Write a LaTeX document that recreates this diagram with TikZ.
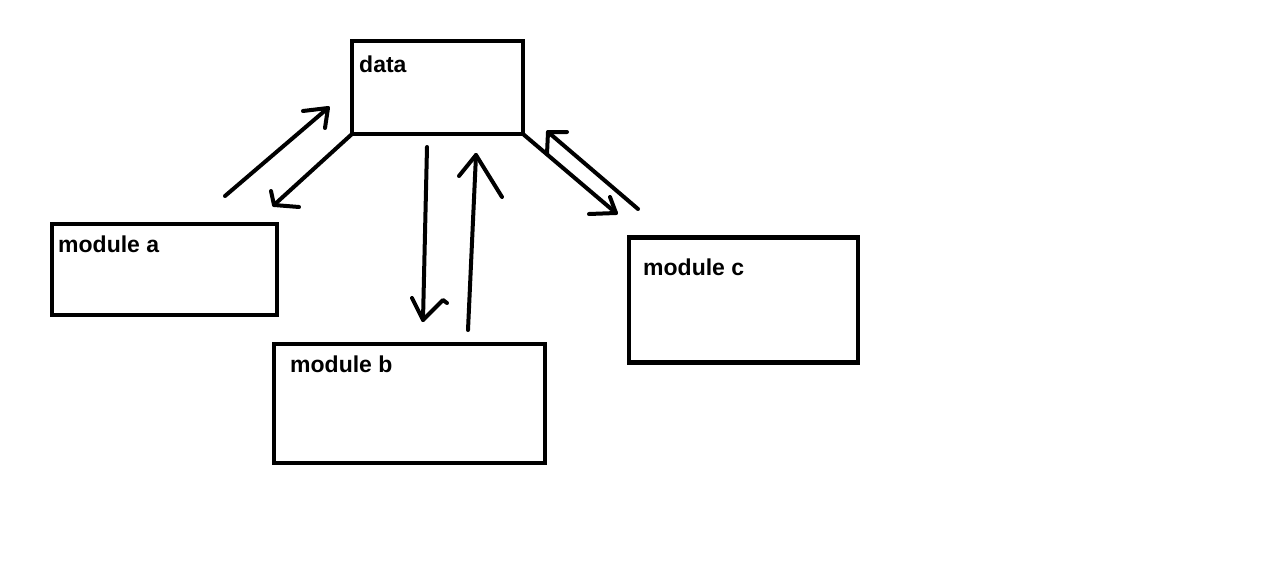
\documentclass[tikz,border=0pt]{standalone}
\usepackage{fontspec}
\setmainfont{Liberation Sans}
\begin{document}
\begin{tikzpicture}[x=1pt,y=-1pt,
  box/.style={draw=black, line width=4.5pt, inner sep=0pt, outer sep=0pt, anchor=north west},
  lbl/.style={anchor=base west, inner sep=0pt, font=\fontsize{23}{27}\selectfont\bfseries},
  stroke/.style={line width=4pt, line cap=round, line join=round}]
\useasboundingbox[fill=white] (0,0) rectangle (1275,565);
% boxes
\node[box, minimum width=171pt, minimum height=93pt] (data) at (352,41) {};
\node[box, minimum width=225pt, minimum height=91pt] (ma) at (52,224) {};
\node[box, minimum width=271pt, minimum height=119pt] (mb) at (274,344) {};
\node[box, minimum width=229pt, minimum height=125pt] (mc) at (629,237.5) {};
% labels
\node[lbl] (tdata) at (359,72) {data};
\node[lbl] (ta) at (58,252) {module a};
\node[lbl] (tb) at (290,372) {module b};
\node[lbl] (tc) at (643,275) {module c};
% arrow module a -> data
\coordinate (a1s) at (225,196);
\coordinate (a1t) at (328,108);
\coordinate (a1h1) at (303,111);
\coordinate (a1h2) at (325,128);
\draw[stroke] (a1s) -- (a1t);
\draw[stroke] (a1h1) -- (a1t) -- (a1h2);
% arrow data -> module a
\coordinate (a2t) at (274,205);
\coordinate (a2h1) at (271,191);
\coordinate (a2h2) at (299,207);
\draw[stroke] (data.south west) -- (a2t);
\draw[stroke] (a2h1) -- (a2t) -- (a2h2);
% arrow data -> module b
\coordinate (a3s) at (427,147);
\coordinate (a3t) at (423,320);
\coordinate (a3h1) at (412,298);
\coordinate (a3m) at (443,300);
\coordinate (a3h2) at (447,303);
\draw[stroke] (a3s) -- (a3t);
\draw[stroke] (a3h1) -- (a3t) -- (a3m) -- (a3h2);
% arrow module b -> data
\coordinate (a4s) at (468,330);
\coordinate (a4t) at (476,155);
\coordinate (a4h1) at (459,176);
\coordinate (a4h2) at (502,197);
\draw[stroke] (a4s) -- (a4t);
\draw[stroke] (a4h1) -- (a4t) -- (a4h2);
% arrow data -> module c
\coordinate (a5t) at (616,213);
\coordinate (a5h1) at (589,214);
\coordinate (a5h2) at (610,197);
\draw[stroke] (data.south east) -- (a5t);
\draw[stroke] (a5h1) -- (a5t) -- (a5h2);
% arrow module c -> data
\coordinate (a6s) at (638,209);
\coordinate (a6t) at (548,132);
\coordinate (a6h1) at (567,132);
\coordinate (a6h2) at (547,154);
\draw[stroke] (a6s) -- (a6t);
\draw[stroke] (a6h1) -- (a6t) -- (a6h2);
\end{tikzpicture}
\end{document}
